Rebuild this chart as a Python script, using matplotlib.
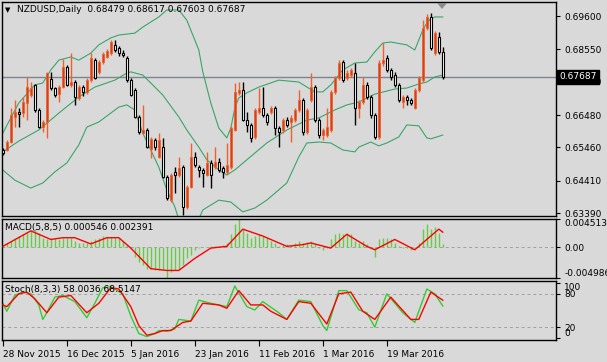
import matplotlib
matplotlib.use("Agg")
import matplotlib.pyplot as plt
import matplotlib.transforms as mtransforms
import numpy as np

# ---------------- DATA ----------------
opens = [.6538, .6538, .6563, .6642, .6658, .6654, .6686, .6711, .6743, .6664,
         .6610, .6626, .6762, .6733, .6714, .6736, .6799, .6743, .6752, .6702,
         .6736, .6721, .6758, .6821, .6784, .6815, .6831, .6843, .6869, .6859,
         .6843, .6828, .6758, .6727, .6642, .6591, .6601, .6541, .6569, .6516,
         .6547, .6453, .6380, .6469, .6459, .6484, .6358, .6421, .6516, .6484,
         .6475, .6459, .6497, .6484, .6500, .6481, .6469, .6484, .6601, .6718,
         .6727, .6632, .6617, .6579, .6658, .6670, .6648, .6658, .6670, .6607,
         .6601, .6632, .6626, .6632, .6664, .6695, .6595, .6695, .6736, .6632,
         .6585, .6585, .6601, .6721, .6765, .6815, .6765, .6774, .6780, .6670,
         .6689, .6743, .6705, .6648, .6579, .6812, .6828, .6790, .6774, .6743,
         .6689, .6705, .6695, .6670, .6727, .6758, .6922, .6957, .6843, .6894,
         .68479]
highs = [.6544, .6569, .6670, .6695, .6670, .6705, .6768, .6752, .6746, .6670,
         .6632, .6784, .6784, .6736, .6743, .6825, .6806, .6843, .6758, .6743,
         .6743, .6765, .6843, .6828, .6821, .6847, .6856, .6884, .6884, .6866,
         .6853, .6834, .6765, .6733, .6648, .6680, .6607, .6579, .6576, .6591,
         .6576, .6459, .6466, .6484, .6516, .6491, .6428, .6560, .6532, .6491,
         .6481, .6532, .6507, .6547, .6513, .6488, .6560, .6614, .6749, .6752,
         .6752, .6658, .6623, .6670, .6733, .6736, .6654, .6677, .6677, .6614,
         .6639, .6642, .6648, .6670, .6727, .6702, .6670, .6780, .6743, .6639,
         .6607, .6670, .6727, .6771, .6821, .6821, .6790, .6796, .6812, .6695,
         .6768, .6752, .6711, .6654, .6821, .6875, .6837, .6796, .6784, .6749,
         .6711, .6711, .6702, .6733, .6771, .6947, .6966, .6969, .6913, .6910,
         .68617]
lows = [.6522, .6535, .6560, .6610, .6610, .6642, .6632, .6705, .6658, .6607,
        .6595, .6576, .6727, .6705, .6689, .6733, .6740, .6736, .6680, .6695,
        .6708, .6714, .6752, .6762, .6777, .6809, .6828, .6837, .6847, .6834,
        .6831, .6752, .6708, .6639, .6588, .6588, .6544, .6513, .6538, .6513,
        .6450, .6380, .6374, .6403, .6453, .6333, .6352, .6418, .6484, .6453,
        .6421, .6456, .6418, .6478, .6469, .6450, .6462, .6478, .6598, .6711,
        .6629, .6595, .6563, .6573, .6651, .6642, .6617, .6651, .6585, .6547,
        .6591, .6610, .6563, .6626, .6658, .6585, .6588, .6689, .6626, .6576,
        .6569, .6579, .6595, .6714, .6758, .6752, .6758, .6768, .6617, .6639,
        .6683, .6699, .6639, .6573, .6573, .6803, .6784, .6758, .6736, .6689,
        .6670, .6680, .6680, .6667, .6721, .6752, .6916, .6853, .6837, .6840,
        .67603]
closes = [.6529, .6563, .6648, .6658, .6651, .6689, .6736, .6733, .6664, .6610,
          .6626, .6780, .6733, .6711, .6736, .6799, .6743, .6752, .6705, .6736,
          .6721, .6758, .6828, .6765, .6815, .6840, .6850, .6878, .6853, .6843,
          .6837, .6758, .6711, .6642, .6595, .6601, .6547, .6573, .6547, .6569,
          .6453, .6387, .6459, .6459, .6481, .6358, .6421, .6516, .6491, .6475,
          .6466, .6497, .6459, .6500, .6475, .6469, .6491, .6607, .6721, .6727,
          .6632, .6617, .6576, .6664, .6670, .6648, .6626, .6670, .6607, .6595,
          .6632, .6617, .6639, .6664, .6695, .6595, .6664, .6736, .6632, .6585,
          .6601, .6610, .6721, .6765, .6812, .6758, .6780, .6790, .6670, .6689,
          .6743, .6705, .6648, .6579, .6812, .6821, .6790, .6768, .6743, .6695,
          .6705, .6695, .6686, .6727, .6765, .6922, .6957, .6859, .6906, .6847,
          .67687]

# Bollinger bands, sampled along the chart
upper_idx = [0, 2, 4, 8, 10, 12, 14, 17, 19, 22, 24, 27, 29, 33, 35, 37, 39, 41, 44, 46,
             49, 50, 52, 54, 56, 57, 58, 59, 61, 64, 69, 74, 78, 80, 82, 85, 88, 91, 93, 95,
             97, 101, 103, 105, 106, 107, 108, 110]
upper_val = [.6591, .6639, .6686, .6743, .6749, .6790, .6821, .6831, .6821, .6843,
             .6869, .6891, .6900, .6906, .6925, .6941, .6957, .6979, .6979, .6947,
             .6853, .6784, .6686, .6607, .6576, .6607, .6670, .6702, .6718, .6736,
             .6758, .6752, .6721, .6721, .6743, .6790, .6812, .6815, .6847, .6875,
             .6878, .6869, .6853, .6916, .6938, .6951, .6957, .6957]
mid_idx = [0, 4, 9, 14, 19, 23, 28, 31, 32, 35, 37, 40, 44, 46, 49, 51, 54, 56, 58, 61,
           66, 71, 76, 79, 83, 86, 89, 93, 98, 101, 104, 106, 108, 110]
mid_val = [.6532, .6566, .6601, .6654, .6705, .6736, .6758, .6780, .6784, .6774,
           .6749, .6711, .6642, .6601, .6547, .6507, .6475, .6459, .6475, .6507,
           .6560, .6601, .6632, .6639, .6664, .6680, .6689, .6714, .6730, .6733,
           .6746, .6752, .6768, .6774]
lower_idx = [0, 3, 7, 10, 13, 16, 19, 21, 24, 29, 31, 33, 35, 39, 41, 43, 45, 48, 50, 54,
             57, 60, 63, 66, 71, 74, 76, 79, 82, 85, 88, 89, 92, 94, 96, 99, 101, 104, 106, 107,
             110]
lower_val = [.6475, .6443, .6418, .6434, .6469, .6497, .6554, .6610, .6626, .6673,
             .6680, .6664, .6591, .6484, .6412, .6359, .6280, .6292, .6349, .6380,
             .6374, .6343, .6355, .6380, .6434, .6516, .6560, .6563, .6560, .6538,
             .6532, .6547, .6563, .6551, .6560, .6579, .6617, .6614, .6576, .6573,
             .6585]

# MACD(5,8,5): main histogram per bar, signal sampled
macd_main = [0.00039, 0.00066, 0.00094, 0.00122, 0.00177, 0.00205, 0.00233, 0.0026, 0.00288, 0.00233,
             0.0015, 0.00122, 0.0015, 0.0015, 0.00122, 0.0015, 0.0015, 0.00139, 0.00094, 0.00066,
             0.00066, 0.00066, 0.00094, 0.00122, 0.0015, 0.00177, 0.00161, 0.00161, 0.0015, 0.00139,
             0.00094, 0.00039, -0.00017, -0.00155, -0.00238, -0.00294, -0.00349, -0.00349, -0.00377, -0.00377,
             -0.00377, -0.004986, -0.00404, -0.00377, -0.00349, -0.00294, -0.00183, -0.00127, -0.00044, -0.00017,
             -0.00006, 0.00006, 0.00011, 0.00011, 0.00011, 0.00028, 0.00066, 0.00205, 0.00371, 0.004513,
             0.00288, 0.00233, 0.0015, 0.00177, 0.00205, 0.00177, 0.0015, 0.00094, 0.00066, 0.00011,
             0.00039, 0.0005, 0.00039, 0.00066, 0.00094, 0.00066, 0.00083, 0.00105, 0.0005, -0.00017,
             -0.00044, -0.00017, 0.00122, 0.00205, 0.00233, 0.00205, 0.00233, 0.00205, 0.00094, 0.00066,
             0.00094, 0.0005, -0.00017, -0.00155, 0.00122, 0.0015, 0.0015, 0.00122, 0.00066, 0.00011,
             -0.00017, -0.00017, -0.00044, -0.00017, 0.00066, 0.00288, 0.00371, 0.00288, 0.00316, 0.00233,
             0.000546]
macd_sig_idx = [0, 7, 12, 15, 18, 22, 26, 29, 32, 37, 41, 44, 48, 52, 56, 60, 65, 71, 75, 77,
                82, 86, 91, 93, 98, 103, 109, 110]
macd_sig_val = [0.00011, 0.0026, 0.00122, 0.0015, 0.0015, 0.0005, 0.0015, 0.0015, -0.00017, -0.00349,
                -0.00377, -0.00377, -0.00183, -0.00017, 0.00011, 0.00288, 0.00177, 0.00011, 0.00039, 0.00066,
                -0.00017, 0.00205, 0.00011, -0.00044, 0.00122, -0.00044, 0.00288, 0.002391]

# Stochastic(8,3,3), sampled
stoch_main_idx = [0, 1, 3, 5, 7, 9, 10, 11, 13, 15, 18, 21, 23, 25, 27, 30, 32, 34, 36, 38,
                  39, 41, 43, 44, 47, 49, 52, 56, 58, 61, 63, 65, 69, 71, 74, 77, 80, 81, 84, 86,
                  89, 91, 93, 96, 100, 103, 106, 108, 110]
stoch_main_val = [62.9, 48.6, 77, 83, 80, 60, 34, 46, 74, 77, 66, 37, 63, 91, 92.6, 80, 40, 8.6, 3, 8.6,
                  14, 12.6, 17, 34, 31, 68.6, 63, 57, 94, 57, 51, 66, 46, 34, 68.6, 66, 23, 14, 85.7, 85.7,
                  51.4, 46, 20, 80, 46, 28.6, 88.6, 80, 58.0036]
stoch_sig_idx = [0, 1, 4, 6, 8, 11, 14, 17, 21, 24, 27, 29, 32, 34, 36, 38, 40, 42, 45, 47,
                 50, 54, 56, 59, 62, 65, 67, 71, 74, 77, 81, 84, 87, 90, 93, 97, 102, 104, 107, 110]
stoch_sig_val = [60, 57, 80, 83, 71, 46, 74, 77, 46, 63, 91, 88.6, 57, 23, 5.7, 8.6, 14, 14, 28.6, 31,
                 63, 60, 54, 85.7, 60, 60, 48.6, 34, 66, 63, 25.7, 80, 83, 48.6, 34, 74, 34, 34, 83, 68.5147]

price_ticks = [0.69600, 0.68550, 0.67530, 0.66480, 0.65460, 0.64410, 0.63390]
date_ticks = [0, 16, 32, 48, 64, 80, 96]
date_labels = ["28 Nov 2015", "16 Dec 2015", "5 Jan 2016", "23 Jan 2016",
               "11 Feb 2016", "1 Mar 2016", "19 Mar 2016"]
last_price = 0.67687

# ---------------- PLOTTING ----------------
BG = '#d9d9d9'
UP = '#d8401c'
UP_EDGE = '#f0602a'
BAND = '#3aa56a'
W, H = 607, 362
plt.rcParams['font.family'] = 'DejaVu Sans'
plt.rcParams['font.size'] = 6.5

fig = plt.figure(figsize=(W / 100, H / 100), dpi=100)
fig.patch.set_facecolor(BG)


def box(x0, y0, x1, y1):
    return [x0 / W, 1 - y1 / H, (x1 - x0) / W, (y1 - y0) / H]


ax = fig.add_axes(box(2, 2, 556, 216))
ax_macd = fig.add_axes(box(2, 219, 556, 278), sharex=ax)
ax_st = fig.add_axes(box(2, 281, 556, 340), sharex=ax)

for a in (ax, ax_macd, ax_st):
    a.set_facecolor(BG)
    for s in a.spines.values():
        s.set_color('black')
        s.set_linewidth(1)
    a.yaxis.tick_right()
    a.tick_params(axis='y', direction='out', length=3, width=0.8, pad=3, labelsize=6.5)
    a.tick_params(axis='x', bottom=False, labelbottom=False)

x = np.arange(len(closes))
o = np.array(opens)
c = np.array(closes)
hi = np.array(highs)
lo = np.array(lows)
up = c >= o

# price line
ax.axhline(last_price, color='#7d8590', lw=1, zorder=1)

# bands
ax.plot(upper_idx, upper_val, color=BAND, lw=0.8, zorder=2)
ax.plot(mid_idx, mid_val, color=BAND, lw=0.8, zorder=2)
ax.plot(lower_idx, lower_val, color=BAND, lw=0.8, zorder=2)

# candles
ax.vlines(x[up], lo[up], hi[up], color=UP_EDGE, lw=1, zorder=3)
ax.vlines(x[~up], lo[~up], hi[~up], color='black', lw=1, zorder=3)
body_lo = np.minimum(o, c)
body_h = np.maximum(np.abs(c - o), 0.00005)
ax.bar(x[up], body_h[up], bottom=body_lo[up], width=0.55, color=UP,
       edgecolor=UP_EDGE, linewidth=0.6, zorder=4)
ax.bar(x[~up], body_h[~up], bottom=body_lo[~up], width=0.55, color='white',
       edgecolor='black', linewidth=0.8, zorder=4)

ax.set_xlim(-0.2, 138.3)
ax.set_ylim(0.6330, 0.70041)
ax.set_yticks(price_ticks)
ax.set_yticklabels([f"{p:.5f}" for p in price_ticks])

# last price tag
trans = mtransforms.blended_transform_factory(ax.transAxes, ax.transData)
ax.text(1.0055, last_price, f"{last_price:.5f}", transform=trans, ha='left', va='center',
        color='white', fontsize=6.5, zorder=10, clip_on=False,
        bbox=dict(boxstyle='square,pad=0.28', facecolor='black', edgecolor='black'))

# header texts
fig.text(5 / W, 1 - 10 / H, "\u25bc", fontsize=5, va='center', ha='left')
fig.text(17 / W, 1 - 10 / H, "NZDUSD,Daily  0.68479 0.68617 0.67603 0.67687",
         fontsize=6.5, va='center', ha='left')
tri = plt.Polygon([[437 / W, 1 - 3 / H], [447 / W, 1 - 3 / H], [442 / W, 1 - 9 / H]],
                  closed=True, transform=fig.transFigure, facecolor='#8c8c8c',
                  edgecolor='none', zorder=20)
fig.patches.append(tri)

# MACD
ax_macd.axhline(0, color='#a0a0a0', lw=0.7, ls=(0, (3, 3)), zorder=1)
ax_macd.vlines(x, 0, macd_main, color='#66cc44', lw=1, zorder=2)
ax_macd.plot(macd_sig_idx, macd_sig_val, color='red', lw=1, zorder=3)
ax_macd.set_ylim(-0.004986, 0.004513)
ax_macd.set_yticks([0.004513, 0.0, -0.004986])
ax_macd.set_yticklabels(["0.004513", "0.00", "-0.004986"])
ml = ax_macd.get_yticklabels()
ml[0].set_va('top')
ml[2].set_va('bottom')
ax_macd.text(0.006, 0.86, "MACD(5,8,5) 0.000546 0.002391", transform=ax_macd.transAxes,
             fontsize=6.5, va='center', ha='left')

# Stochastic
for lvl in (80, 20):
    ax_st.axhline(lvl, color='#a0a0a0', lw=0.7, ls=(0, (3, 3)), zorder=1)
ax_st.plot(stoch_main_idx, stoch_main_val, color='#33cc33', lw=1, zorder=2)
ax_st.plot(stoch_sig_idx, stoch_sig_val, color='red', lw=1, zorder=3)
ax_st.set_ylim(-3, 103)
ax_st.set_yticks([100, 80, 20, 0])
ax_st.set_yticklabels(["100", "80", "20", "0"])
sl = ax_st.get_yticklabels()
sl[0].set_va('top')
sl[3].set_va('bottom')
ax_st.text(0.006, 0.86, "Stoch(8,3,3) 58.0036 68.5147", transform=ax_st.transAxes,
           fontsize=6.5, va='center', ha='left')

ax_st.tick_params(axis='x', bottom=True, labelbottom=True, direction='out', length=4,
                  width=0.8, pad=3, labelsize=6.5)
ax_st.set_xticks(date_ticks)
ax_st.set_xticklabels(date_labels, ha='left')

fig.savefig("out.png", dpi=100, facecolor=BG)
